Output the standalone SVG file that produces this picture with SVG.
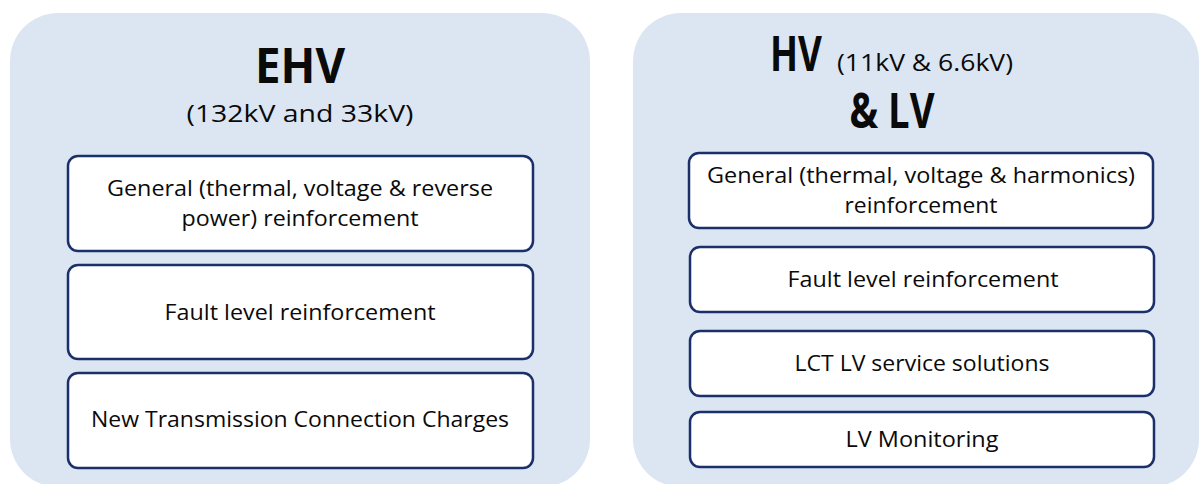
<svg xmlns="http://www.w3.org/2000/svg" width="1200" height="484" viewBox="0 0 1200 484">
  <style>
    .panel { fill: #dce6f2; }
    .box { fill: #ffffff; stroke: #1b2f6a; stroke-width: 2.5; }
    text { font-family: "Open Sans", "Noto Sans", "Liberation Sans", sans-serif; fill: #0a0a0a; text-anchor: middle; }
    .title { font-weight: bold; font-size: 48px; }
    .sub { font-size: 24px; }
    .item { font-size: 22px; }
  </style>

  <!-- EHV column -->
  <g id="ehv-panel">
    <rect class="panel" x="10" y="13" width="580" height="474" rx="48"/>
    <text class="title" x="300" y="83" textLength="90" lengthAdjust="spacingAndGlyphs">EHV</text>
    <text class="sub" x="300" y="122" textLength="227" lengthAdjust="spacingAndGlyphs">(132kV and 33kV)</text>
  </g>
  <g id="ehv-general">
    <rect class="box" x="68" y="156" width="465" height="95" rx="10"/>
    <text class="item" x="300" y="196" textLength="386" lengthAdjust="spacingAndGlyphs">General (thermal, voltage &amp; reverse</text>
    <text class="item" x="300" y="226" textLength="237" lengthAdjust="spacingAndGlyphs">power) reinforcement</text>
  </g>
  <g id="ehv-fault">
    <rect class="box" x="68" y="265" width="465" height="94" rx="10"/>
    <text class="item" x="300" y="320" textLength="271" lengthAdjust="spacingAndGlyphs">Fault level reinforcement</text>
  </g>
  <g id="ehv-tcc">
    <rect class="box" x="68" y="373" width="465" height="95" rx="10"/>
    <text class="item" x="300" y="427" textLength="418" lengthAdjust="spacingAndGlyphs">New Transmission Connection Charges</text>
  </g>

  <!-- HV & LV column -->
  <g id="hvlv-panel">
    <rect class="panel" x="633" y="13" width="566" height="474" rx="48"/>
    <text class="title" x="796" y="71" textLength="52" lengthAdjust="spacingAndGlyphs">HV</text>
    <text class="sub" x="925" y="71" textLength="176" lengthAdjust="spacingAndGlyphs">(11kV &amp; 6.6kV)</text>
    <text class="title" x="892" y="128" textLength="85" lengthAdjust="spacingAndGlyphs">&amp; LV</text>
  </g>
  <g id="hv-general">
    <rect class="box" x="689" y="153" width="464" height="75" rx="10"/>
    <text class="item" x="921" y="183" textLength="428" lengthAdjust="spacingAndGlyphs">General (thermal, voltage &amp; harmonics)</text>
    <text class="item" x="921" y="213" textLength="153" lengthAdjust="spacingAndGlyphs">reinforcement</text>
  </g>
  <g id="hv-fault">
    <rect class="box" x="690" y="247" width="464" height="65" rx="10"/>
    <text class="item" x="923" y="287" textLength="271" lengthAdjust="spacingAndGlyphs">Fault level reinforcement</text>
  </g>
  <g id="lv-service">
    <rect class="box" x="690" y="331" width="464" height="65" rx="10"/>
    <text class="item" x="922" y="371" textLength="255" lengthAdjust="spacingAndGlyphs">LCT LV service solutions</text>
  </g>
  <g id="lv-monitoring">
    <rect class="box" x="690" y="412" width="464" height="55" rx="10"/>
    <text class="item" x="922" y="447" textLength="153" lengthAdjust="spacingAndGlyphs">LV Monitoring</text>
  </g>

  <g id="connectors"/>
</svg>
